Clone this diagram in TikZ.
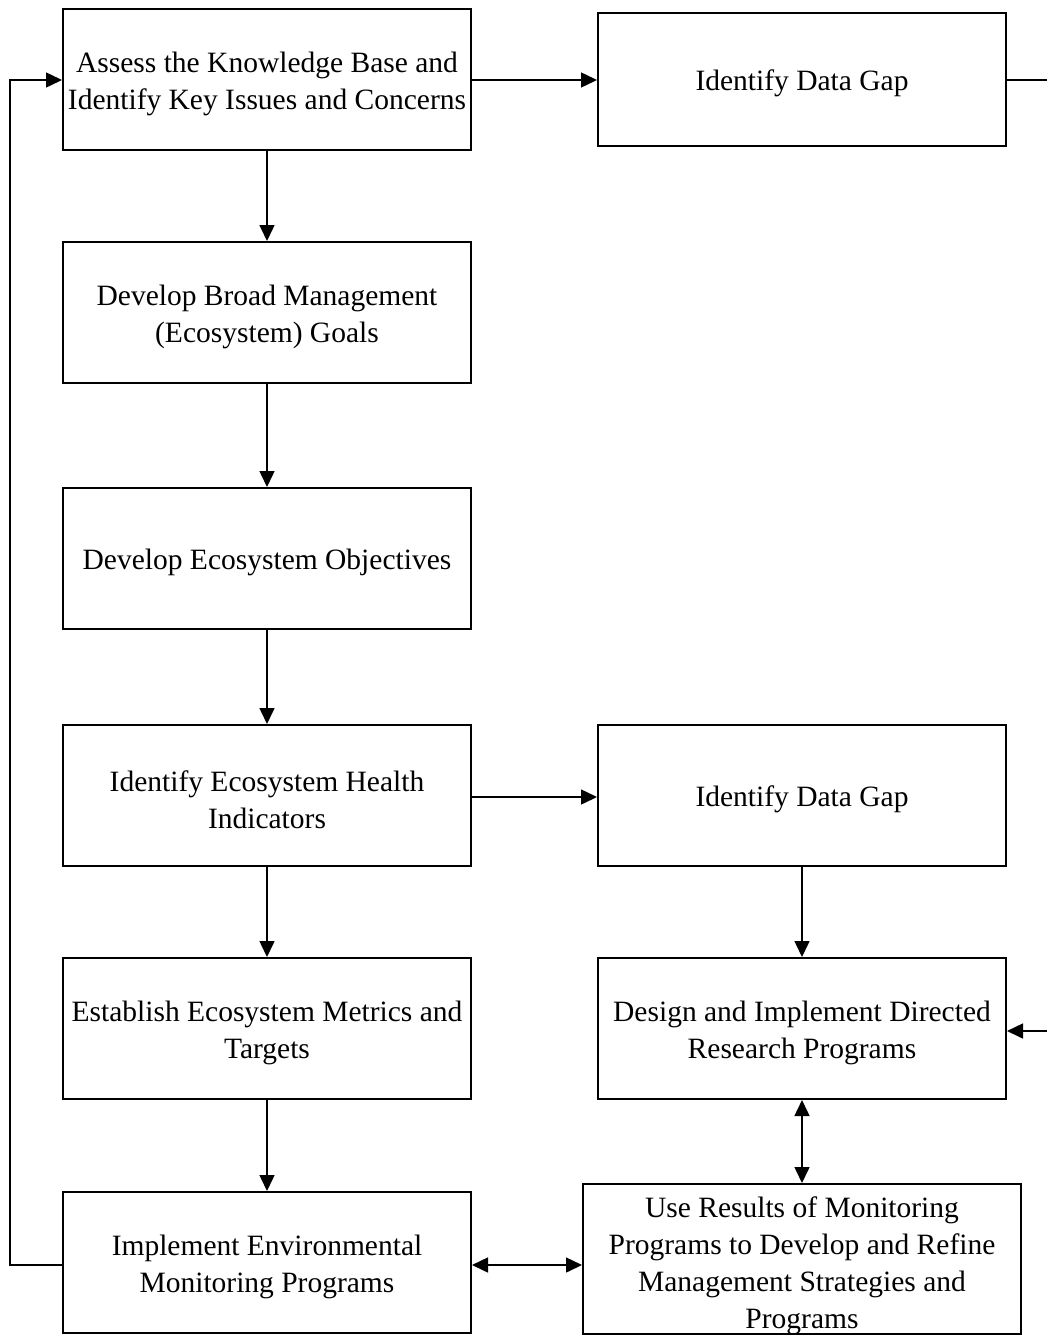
\documentclass[tikz,border=0pt]{standalone}
\usepackage{fontspec}
\setmainfont{Liberation Serif}
\usetikzlibrary{arrows.meta}
\begin{document}
\begin{tikzpicture}[x=1pt,y=-1pt,
  procbox/.style={draw, line width=2pt, minimum width=408pt, minimum height=141pt, inner sep=0pt},
  boxtext/.style={align=center, inner sep=0pt, yshift=-4pt, font=\fontsize{29.5}{37}\selectfont},
  link/.style={line width=1.5pt, -{Triangle[length=16pt,width=15pt]}},
  biLink/.style={line width=1.5pt, {Triangle[length=16pt,width=15pt]}-{Triangle[length=16pt,width=15pt]}}]
\useasboundingbox (0,0) rectangle (1047,1336);
% left column
\node[procbox, label={[boxtext]center:{Assess the Knowledge Base and\\Identify Key Issues and Concerns}}] (assess) at (267,79.5) {};
\node[procbox, label={[boxtext]center:{Develop Broad Management\\(Ecosystem) Goals}}] (goals) at (267,312.5) {};
\node[procbox, label={[boxtext]center:{Develop Ecosystem Objectives}}] (objectives) at (267,558.5) {};
\node[procbox, label={[boxtext]center:{Identify Ecosystem Health\\Indicators}}] (indicators) at (267,795.5) {};
\node[procbox, label={[boxtext]center:{Establish Ecosystem Metrics and\\Targets}}] (metrics) at (267,1028.5) {};
\node[procbox, label={[boxtext]center:{Implement Environmental\\Monitoring Programs}}] (monitor) at (267,1262.5) {};
% right column
\node[procbox, minimum height=133pt, label={[boxtext]center:{Identify Data Gap}}] (gapA) at (802,79.5) {};
\node[procbox, label={[boxtext]center:{Identify Data Gap}}] (gapB) at (802,795.5) {};
\node[procbox, label={[boxtext]center:{Design and Implement Directed\\Research Programs}}] (research) at (802,1028.5) {};
\node[procbox, minimum width=438pt, minimum height=150pt,
  label={[boxtext, yshift=-3pt]center:{Use Results of Monitoring\\Programs to Develop and Refine\\Management Strategies and\\Programs}}] (results) at (802,1259) {};
% vertical flow
\draw[link] (assess) -- (goals);
\draw[link] (goals) -- (objectives);
\draw[link] (objectives) -- (indicators);
\draw[link] (indicators) -- (metrics);
\draw[link] (metrics) -- (monitor);
\draw[link] (gapB) -- (research);
\draw[biLink] (research) -- (results);
% horizontal links
\draw[link] (assess.east |- 0,80) -- (gapA.west |- 0,80);
\draw[link] (indicators.east |- 0,797) -- (gapB.west |- 0,797);
\draw[biLink] (monitor.east |- 0,1265) -- (results.west |- 0,1265);
% feedback loop on the left
\coordinate (loopBottom) at (10,1265);
\coordinate (loopTop) at (10,80);
\draw[link] (monitor.west |- 0,1265) -- (loopBottom) -- (loopTop) -- (assess.west |- 0,80);
% links leaving and entering on the right
\coordinate (rightOut) at (1047,80);
\coordinate (rightIn) at (1047,1031);
\draw[line width=1.5pt] (gapA.east |- 0,80) -- (rightOut);
\draw[link] (rightIn) -- (research.east |- 0,1031);
\end{tikzpicture}
\end{document}
